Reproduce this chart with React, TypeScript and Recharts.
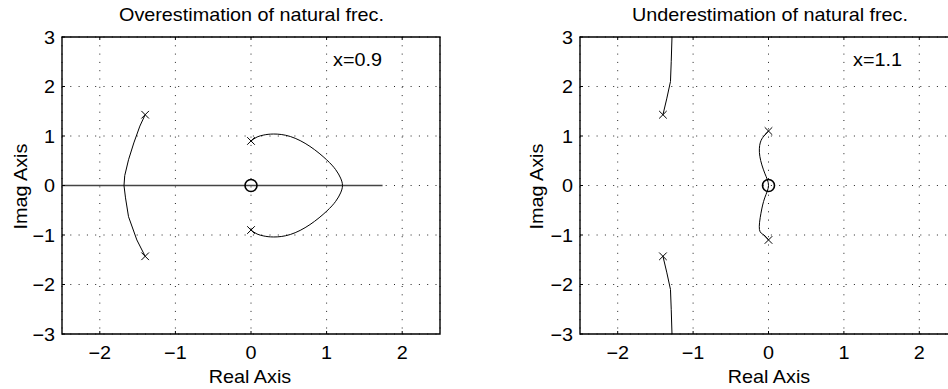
import React from 'react';
import { ComposedChart, XAxis, YAxis, CartesianGrid, Line, Scatter, ReferenceArea } from 'recharts';

// ---- data ----
const xTicks = [-2, -1, 0, 1, 2];
const yTicks = [-3, -2, -1, 0, 1, 2, 3];
const xDomain = [-2.5, 2.5];
const yDomain = [-3, 3];

const leftTitle = 'Overestimation of natural frec.';
const rightTitle = 'Underestimation of natural frec.';
const leftNote = 'x=0.9';
const rightNote = 'x=1.1';

const leftPoles = [
  { x: -1.4, y: 1.43 },
  { x: -1.4, y: -1.43 },
  { x: 0, y: 0.9 },
  { x: 0, y: -0.9 },
];
const leftZeros = [{ x: 0, y: 0 }];
const leftBranchOuter = [
  { x: -1.4, y: 1.43 },
  { x: -1.47, y: 1.2 },
  { x: -1.55, y: 0.86 },
  { x: -1.62, y: 0.52 },
  { x: -1.67, y: 0.2 },
  { x: -1.68, y: 0 },
  { x: -1.66, y: -0.25 },
  { x: -1.62, y: -0.63 },
  { x: -1.51, y: -1.1 },
  { x: -1.4, y: -1.43 },
];
const leftBranchArc = [
  { x: 0, y: 0.9 },
  { x: 0.08, y: 0.98 },
  { x: 0.17, y: 1.02 },
  { x: 0.3, y: 1.04 },
  { x: 0.52, y: 0.99 },
  { x: 0.78, y: 0.79 },
  { x: 1.0, y: 0.52 },
  { x: 1.12, y: 0.32 },
  { x: 1.185, y: 0.15 },
  { x: 1.21, y: 0 },
  { x: 1.185, y: -0.15 },
  { x: 1.12, y: -0.32 },
  { x: 1.0, y: -0.52 },
  { x: 0.78, y: -0.79 },
  { x: 0.52, y: -0.99 },
  { x: 0.3, y: -1.04 },
  { x: 0.17, y: -1.02 },
  { x: 0.08, y: -0.98 },
  { x: 0, y: -0.9 },
];
const leftRealAxis = [
  { x: -2.5, y: 0 },
  { x: 1.74, y: 0 },
];

const rightPoles = [
  { x: -1.4, y: 1.43 },
  { x: -1.4, y: -1.43 },
  { x: 0, y: 1.1 },
  { x: 0, y: -1.1 },
];
const rightZeros = [{ x: 0, y: 0 }];
const rightBranchUpper = [
  { x: -1.4, y: 1.43 },
  { x: -1.35, y: 1.75 },
  { x: -1.3, y: 2.1 },
  { x: -1.29, y: 2.5 },
  { x: -1.28, y: 3.0 },
];
const rightBranchLower = [
  { x: -1.4, y: -1.43 },
  { x: -1.35, y: -1.75 },
  { x: -1.3, y: -2.1 },
  { x: -1.29, y: -2.5 },
  { x: -1.28, y: -3.0 },
];
const rightBranchMiddle = [
  { x: 0, y: 1.1 },
  { x: -0.06, y: 1.0 },
  { x: -0.11, y: 0.86 },
  { x: -0.115, y: 0.59 },
  { x: -0.05, y: 0.25 },
  { x: 0, y: 0 },
  { x: -0.05, y: -0.25 },
  { x: -0.1, y: -0.56 },
  { x: -0.12, y: -0.89 },
  { x: -0.06, y: -1.0 },
  { x: 0, y: -1.1 },
];

// ---- styling helpers ----
const FONT = '"Liberation Sans", Arial, Helvetica, sans-serif';
const TEXT_SIZE = 18;
const STRETCH = 1.1;

const fmt = (v: number) => (v < 0 ? '\u2212' + Math.abs(v) : String(v));

const XTick = (props: any) => {
  const { x, y, payload } = props;
  return (
    <g>
      <line x1={x} x2={x} y1={y} y2={y - 3} stroke="#000" strokeWidth={1} />
      <line x1={x} x2={x} y1={37} y2={40} stroke="#000" strokeWidth={1} />
      <text
        transform={`translate(${x},${y + 24.5}) scale(${STRETCH},1)`}
        textAnchor="middle"
        fontFamily={FONT}
        fontSize={TEXT_SIZE}
        fill="#000"
      >
        {fmt(payload.value)}
      </text>
    </g>
  );
};

const YTick = (props: any) => {
  const { x, y, payload } = props;
  return (
    <g>
      <line x1={x} x2={x + 3} y1={y} y2={y} stroke="#000" strokeWidth={1} />
      <text
        transform={`translate(${x - 7},${y + 6.5}) scale(${STRETCH},1)`}
        textAnchor="end"
        fontFamily={FONT}
        fontSize={TEXT_SIZE}
        fill="#000"
      >
        {fmt(payload.value)}
      </text>
    </g>
  );
};

const XMark = (props: any) => {
  const { cx, cy } = props;
  const s = 3.8;
  return (
    <path
      d={`M${cx - s},${cy - s}L${cx + s},${cy + s}M${cx - s},${cy + s}L${cx + s},${cy - s}`}
      stroke="#000"
      strokeWidth={1}
      fill="none"
    />
  );
};

const OMark = (props: any) => {
  const { cx, cy } = props;
  return <circle cx={cx} cy={cy} r={6} fill="none" stroke="#000" strokeWidth={1.6} />;
};

type Pt = { x: number; y: number };

function Plot(props: {
  width: number;
  marginLeft: number;
  marginRight: number;
  curves: { data: Pt[]; type: 'linear' | 'natural'; stroke?: string; width?: number }[];
  poles: Pt[];
  zeros: Pt[];
}) {
  const { width, marginLeft, marginRight, curves, poles, zeros } = props;
  return (
    <ComposedChart
      width={width}
      height={389}
      margin={{ top: 37, right: marginRight, bottom: 25, left: marginLeft }}
    >
      <CartesianGrid stroke="#222" strokeDasharray="1 7.3" strokeWidth={1} />
      <XAxis
        type="number"
        dataKey="x"
        domain={xDomain}
        ticks={xTicks}
        allowDataOverflow
        axisLine={false}
        tickLine={false}
        tickSize={0}
        tickMargin={0}
        height={30}
        tick={<XTick />}
        interval={0}
      />
      <YAxis
        type="number"
        dataKey="y"
        domain={yDomain}
        ticks={yTicks}
        allowDataOverflow
        axisLine={false}
        tickLine={false}
        tickSize={0}
        tickMargin={0}
        width={40}
        tick={<YTick />}
        interval={0}
      />
      {curves.map((c, i) => (
        <Line
          key={i}
          data={c.data}
          dataKey="y"
          type={c.type}
          stroke={c.stroke || '#000'}
          strokeWidth={c.width || 1}
          dot={false}
          activeDot={false}
          isAnimationActive={false}
        />
      ))}
      <ReferenceArea
        x1={-2.5}
        x2={2.5}
        y1={-3}
        y2={3}
        fill="none"
        fillOpacity={0}
        stroke="#000"
        strokeWidth={1.4}
        ifOverflow="visible"
      />
      <Scatter data={poles} dataKey="y" shape={<XMark />} isAnimationActive={false} />
      <Scatter data={zeros} dataKey="y" shape={<OMark />} isAnimationActive={false} />
    </ComposedChart>
  );
}

export default function App() {
  const labelStyle = { fontFamily: FONT, fill: '#000' } as const;
  return (
    <div
      style={{
        position: 'absolute',
        left: 0,
        top: 0,
        width: 948,
        height: 389,
        overflow: 'hidden',
        background: '#fff',
      }}
    >
      <div style={{ position: 'absolute', left: 0, top: 0 }}>
        <Plot
          width={474}
          marginLeft={22}
          marginRight={34}
          curves={[
            { data: leftRealAxis, type: 'linear', stroke: '#444', width: 1.4 },
            { data: leftBranchOuter, type: 'linear' },
            { data: leftBranchArc, type: 'natural' },
          ]}
          poles={leftPoles}
          zeros={leftZeros}
        />
      </div>
      <div style={{ position: 'absolute', left: 474, top: 0 }}>
        <Plot
          width={500}
          marginLeft={66}
          marginRight={17}
          curves={[
            { data: rightBranchUpper, type: 'linear' },
            { data: rightBranchLower, type: 'linear' },
            { data: rightBranchMiddle, type: 'natural' },
          ]}
          poles={rightPoles}
          zeros={rightZeros}
        />
      </div>
      <svg
        width={948}
        height={389}
        style={{ position: 'absolute', left: 0, top: 0, pointerEvents: 'none' }}
      >
        <g {...labelStyle} fontSize={TEXT_SIZE}>
          <text transform={`translate(251.5,20.5) scale(${STRETCH},1)`} textAnchor="middle">{leftTitle}</text>
          <text transform={`translate(770,20.5) scale(${STRETCH},1)`} textAnchor="middle">{rightTitle}</text>
          <text transform={`translate(250,383) scale(${STRETCH},1)`} textAnchor="middle">Real Axis</text>
          <text transform={`translate(769,383) scale(${STRETCH},1)`} textAnchor="middle">Real Axis</text>
          <text transform={`translate(26.5,186.5) rotate(-90) scale(${STRETCH},1)`} textAnchor="middle">Imag Axis</text>
          <text transform={`translate(542.5,186.5) rotate(-90) scale(${STRETCH},1)`} textAnchor="middle">Imag Axis</text>
          <text transform={`translate(333,65.5) scale(${STRETCH},1)`} textAnchor="start">{leftNote}</text>
          <text transform={`translate(853,65.5) scale(${STRETCH},1)`} textAnchor="start">{rightNote}</text>
        </g>
      </svg>
    </div>
  );
}
